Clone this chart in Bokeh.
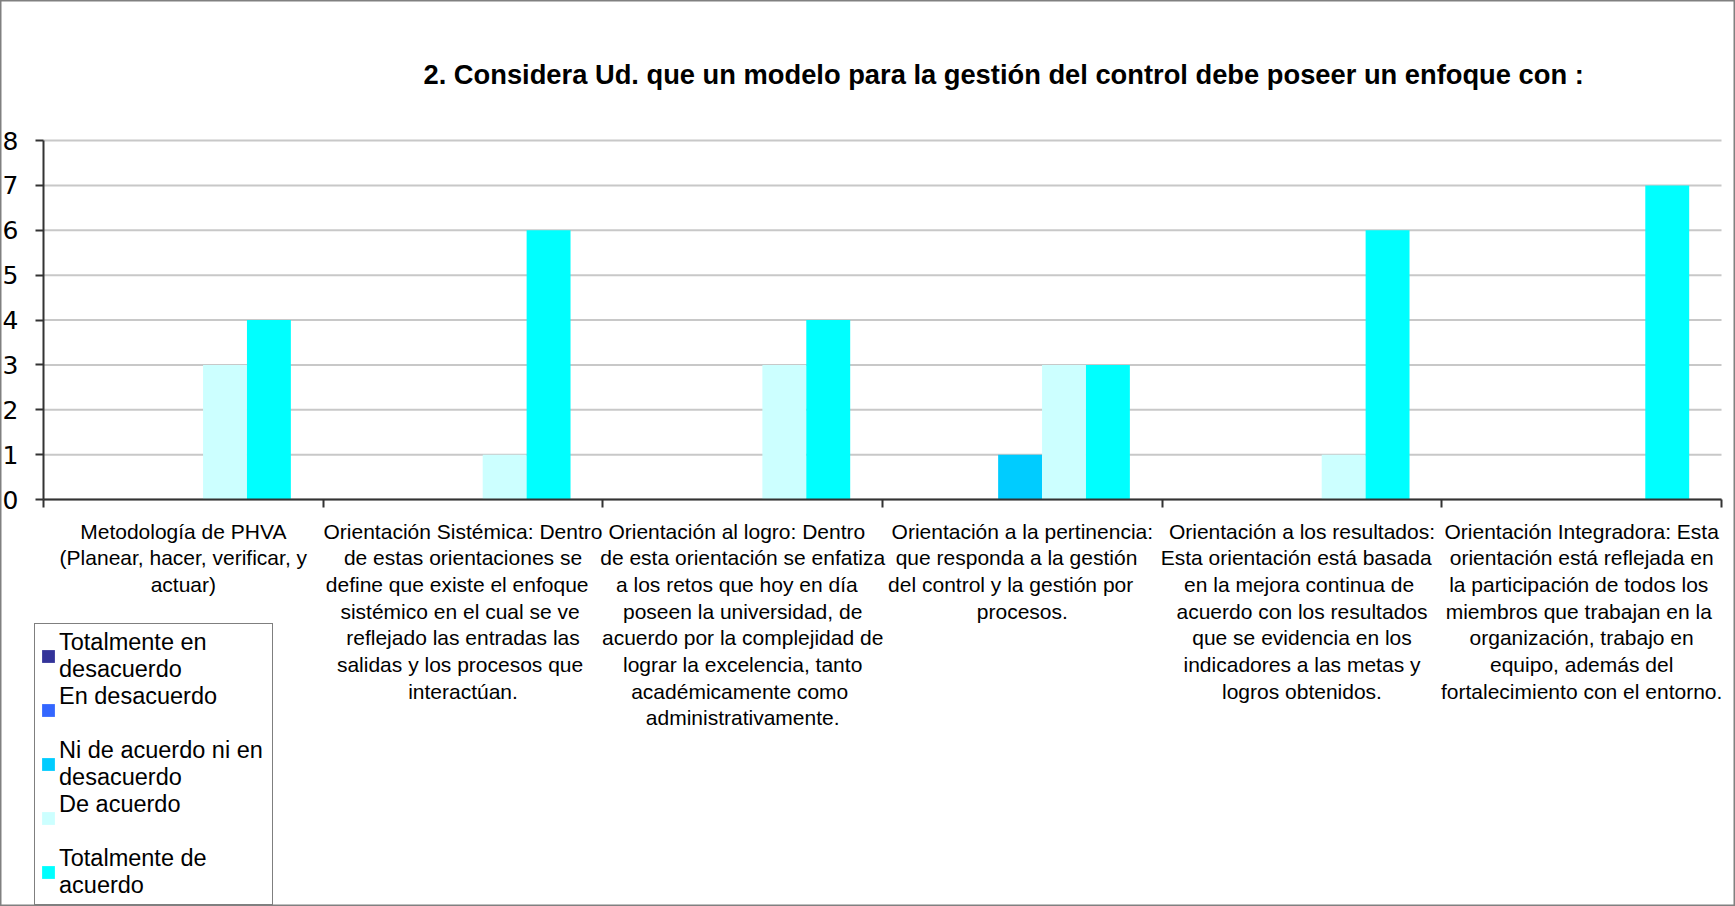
from bokeh.plotting import figure
from bokeh.models import (ColumnDataSource, Range1d, LinearAxis, FixedTicker, Legend, LegendItem,
                          Label, CustomJSTickFormatter)
from bokeh.transform import dodge
from bokeh.embed import file_html
from bokeh.resources import INLINE

categories = [
    "Metodología de PHVA\n(Planear, hacer, verificar, y\nactuar)",
    "Orientación Sistémica: Dentro\nde estas orientaciones se\ndefine  que existe el  enfoque\nsistémico en el cual se  ve\nreflejado las entradas las\nsalidas  y los procesos que\ninteractúan.",
    "Orientación al logro:   Dentro\nde esta orientación se enfatiza\na  los retos que  hoy en día\nposeen la universidad, de\nacuerdo por la complejidad de\nlograr la excelencia, tanto\nacadémicamente  como\nadministrativamente.",
    "Orientación a la pertinencia:\nque responda a  la  gestión\ndel  control  y  la gestión  por\nprocesos.",
    "Orientación a los resultados:\nEsta orientación  está  basada\nen  la mejora continua de\nacuerdo con los resultados\nque se evidencia en los\nindicadores a las metas y\nlogros obtenidos.",
    "Orientación Integradora: Esta\norientación está reflejada en\nla participación de  todos los\nmiembros  que trabajan en la\norganización, trabajo en\nequipo, además del\nfortalecimiento con el entorno.",
]

legend_labels = ["Totalmente en\ndesacuerdo", "En desacuerdo\n ", "Ni de acuerdo ni en\ndesacuerdo",
                 "De acuerdo\n ", "Totalmente de\nacuerdo"]

totalmente_en_desacuerdo = [0, 0, 0, 0, 0, 0]
en_desacuerdo = [0, 0, 0, 0, 0, 0]
ni_de_acuerdo_ni_en_desacuerdo = [0, 0, 0, 1, 0, 0]
de_acuerdo = [3, 1, 3, 3, 1, 0]
totalmente_de_acuerdo = [4, 6, 4, 3, 6, 7]

y_ticks = [0, 1, 2, 3, 4, 5, 6, 7, 8]

colors = ["#333399", "#3366FF", "#00CCFF", "#CCFFFF", "#00FFFF"]
title_text = "2. Considera Ud. que un modelo para la gestión del control debe poseer  un enfoque con :"

values = [totalmente_en_desacuerdo, en_desacuerdo, ni_de_acuerdo_ni_en_desacuerdo,
          de_acuerdo, totalmente_de_acuerdo]

n = len(categories)
W, H = 1735, 906
# plot area in pixels (left, right, top, bottom) inside the canvas
PL, PR, PT, PB = 43, 1721, 140, 499
ymax = y_ticks[-1]
xs = (PR - PL) / n
ys = (PB - PT) / ymax

data = {"x": [i + 0.5 for i in range(n)]}
for i, v in enumerate(values):
    data[f"s{i}"] = v
src = ColumnDataSource(data)

p = figure(x_range=Range1d(-PL / xs, n + (W - PR) / xs),
           y_range=Range1d(-(H - PB) / ys, ymax + PT / ys),
           width=W, height=H, output_backend="svg", toolbar_location=None,
           x_axis_location=None, y_axis_location="left",
           min_border_left=0, min_border_right=0, min_border_top=0, min_border_bottom=0)
p.outline_line_color = "#808080"
p.outline_line_width = 2
p.background_fill_color = "white"
p.border_fill_color = "white"
p.xgrid.visible = False
p.ygrid.visible = False

# horizontal gridlines over the plot area
p.segment(x0=[0] * len(y_ticks), x1=[n] * len(y_ticks), y0=y_ticks, y1=y_ticks,
          line_color="#c8c8c8", line_width=2)

bw = 0.157
offsets = [-2 * bw, -bw, 0.0, bw, 2 * bw]
renderers = []
for i in range(5):
    r = p.vbar(x=dodge("x", offsets[i] - 0.008), top=f"s{i}", width=bw,
               source=src, fill_color=colors[i], line_color=None)
    renderers.append(r)

# y axis
ya = p.yaxis[0]
ya.fixed_location = 0
ya.bounds = (0, ymax)
ya.ticker = FixedTicker(ticks=y_ticks)
ya.major_label_text_font = "DejaVu Sans"
ya.major_label_text_font_size = "25px"
ya.major_label_text_color = "black"
ya.major_tick_out = 8
ya.major_tick_in = 0
ya.minor_tick_line_color = None
ya.axis_line_color = "#333333"
ya.axis_line_width = 2
ya.major_tick_line_color = "#333333"
ya.major_tick_line_width = 2
ya.major_label_standoff = 17

# boundary ticks axis (no labels)
tick_axis = LinearAxis(fixed_location=0, bounds=(0, n),
                       ticker=FixedTicker(ticks=list(range(n + 1))),
                       formatter=CustomJSTickFormatter(code="return ''"),
                       major_label_standoff=0, major_tick_out=8, major_tick_in=0,
                       minor_tick_line_color=None, axis_line_color="#333333", axis_line_width=2,
                       major_tick_line_color="#333333", major_tick_line_width=2)
p.add_layout(tick_axis, "below")

# category label axis
label_axis = LinearAxis(fixed_location=0,
                        ticker=FixedTicker(ticks=[i + 0.5 for i in range(n)]),
                        formatter=CustomJSTickFormatter(args=dict(labels=categories),
                                                        code="return labels[Math.floor(tick)]"),
                        axis_line_color=None, major_tick_line_color=None,
                        minor_tick_line_color=None,
                        major_tick_out=0, major_tick_in=0, major_label_standoff=20,
                        major_label_text_font="Liberation Sans",
                        major_label_text_font_size="21px",
                        major_label_text_color="black",
                        major_label_text_line_height=1.16)
p.add_layout(label_axis, "below")

title = Label(x=423, y=H - 74, x_units="screen", y_units="screen", text=title_text,
              text_align="left", text_baseline="middle",
              text_font="Liberation Sans", text_font_style="bold",
              text_font_size="27.3px", text_color="black")
p.add_layout(title)

legend = Legend(items=[LegendItem(label=legend_labels[i], renderers=[renderers[i]]) for i in range(5)],
                location=(34, 1), orientation="vertical",
                glyph_width=16, glyph_height=16, label_standoff=3, padding=5,
                spacing=0, margin=0, label_width=208,
                label_text_font="Liberation Sans", label_text_font_size="23.5px",
                label_text_line_height=1.2, label_text_color="black",
                border_line_color="black", border_line_width=1.5,
                background_fill_color="white", background_fill_alpha=1.0)
p.add_layout(legend, "center")

open("out.html", "w").write(file_html(p, INLINE))
